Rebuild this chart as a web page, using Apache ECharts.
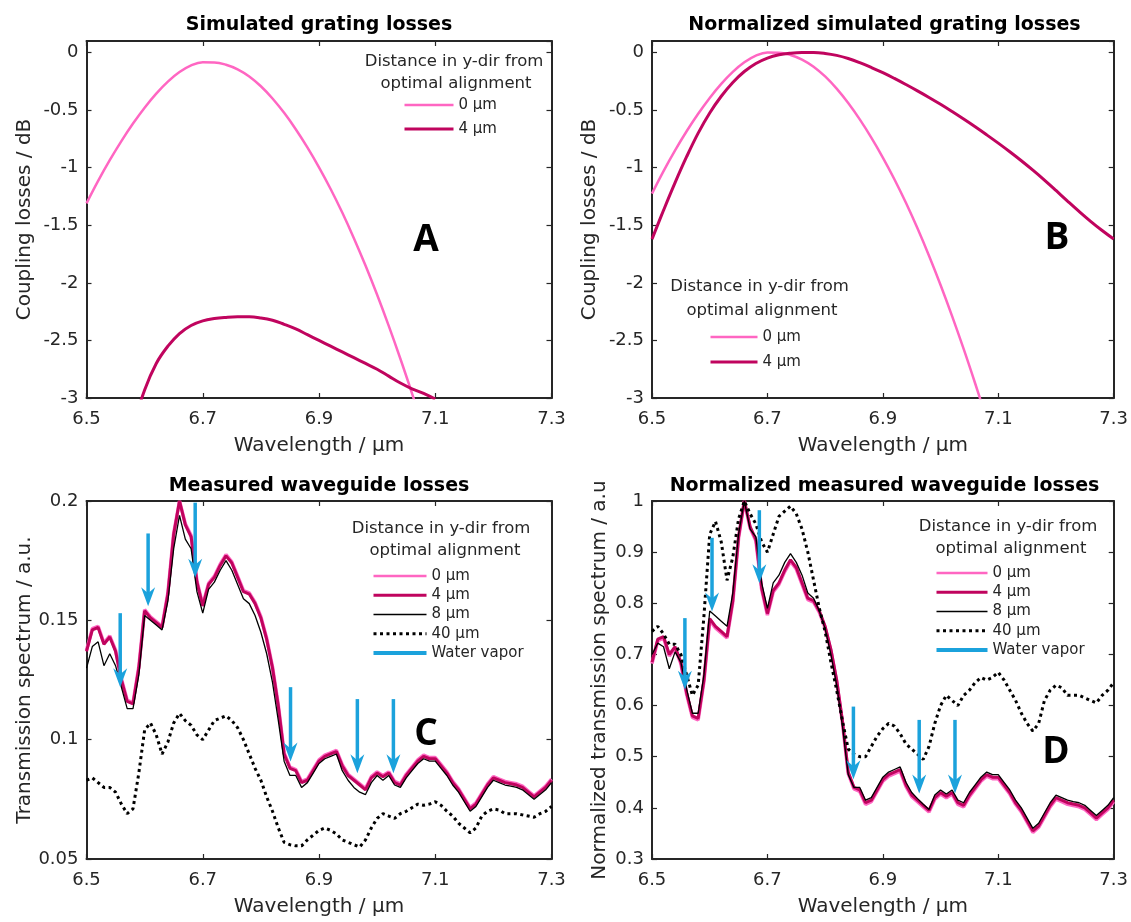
<!DOCTYPE html>
<html>
<head>
<meta charset="utf-8">
<title>Grating and waveguide losses</title>
<script src="https://cdn.jsdelivr.net/npm/echarts@6/dist/echarts.min.js"></script>
<style>
  html, body { margin: 0; background: #fff; }
  #chart { width: 1131px; height: 922px; }
</style>
</head>
<body>
<div id="chart"></div>
<script>
// ---- simulated grating losses (panels A and B), sampled every 0.02 um ----
const simWavelength = [6.50, 6.52, 6.54, 6.56, 6.58, 6.60, 6.62, 6.64, 6.66, 6.68, 6.70, 6.72, 6.74, 6.76, 6.78,
  6.80, 6.82, 6.84, 6.86, 6.88, 6.90, 6.92, 6.94, 6.96, 6.98, 7.00, 7.02, 7.04, 7.06, 7.08, 7.10,
  7.12, 7.14, 7.16, 7.18, 7.20, 7.22, 7.24, 7.26, 7.28, 7.30];

// A: coupling losses in dB
const simLoss0 = [-1.31, -1.115, -0.935, -0.769, -0.617, -0.479, -0.357, -0.253, -0.170, -0.112, -0.085, -0.086, -0.106, -0.146, -0.208,
  -0.293, -0.399, -0.524, -0.666, -0.824, -0.997, -1.185, -1.39, -1.612, -1.85, -2.104, -2.374, -2.659, -2.959, -3.271];
const simLoss4 = [null, null, null, null, -3.25, -2.93, -2.70, -2.55, -2.44, -2.37, -2.33, -2.31, -2.30, -2.295, -2.295,
  -2.305, -2.325, -2.36, -2.40, -2.45, -2.50, -2.55, -2.60, -2.65, -2.70, -2.75, -2.81, -2.87, -2.92, -2.96, -3.01];

// B: normalized to each curve's maximum
const simNorm0 = [-1.225, -1.03, -0.85, -0.684, -0.532, -0.394, -0.272, -0.168, -0.085, -0.027, 0, -0.001, -0.021, -0.061, -0.123,
  -0.208, -0.314, -0.439, -0.581, -0.739, -0.912, -1.10, -1.305, -1.527, -1.765, -2.019, -2.289, -2.574, -2.874, -3.186];
const simNorm4 = [-1.62, -1.37, -1.13, -0.905, -0.70, -0.525, -0.38, -0.26, -0.165, -0.095, -0.048, -0.02, -0.006, 0, 0,
  -0.008, -0.025, -0.052, -0.088, -0.13, -0.175, -0.225, -0.278, -0.333, -0.39, -0.45, -0.513, -0.578, -0.645, -0.715, -0.787,
  -0.862, -0.94, -1.022, -1.108, -1.198, -1.29, -1.38, -1.466, -1.546, -1.62];

// ---- measured waveguide transmission (panels C and D), sampled every 0.01 um ----
const measWavelength = [6.50, 6.51, 6.52, 6.53, 6.54, 6.55, 6.56, 6.57, 6.58, 6.59, 6.60, 6.61, 6.62, 6.63, 6.64,
  6.65, 6.66, 6.67, 6.68, 6.69, 6.70, 6.71, 6.72, 6.73, 6.74, 6.75, 6.76, 6.77, 6.78, 6.79, 6.80,
  6.81, 6.82, 6.83, 6.84, 6.85, 6.86, 6.87, 6.88, 6.89, 6.90, 6.91, 6.92, 6.93, 6.94, 6.95, 6.96,
  6.97, 6.98, 6.99, 7.00, 7.01, 7.02, 7.03, 7.04, 7.05, 7.06, 7.07, 7.08, 7.09, 7.10, 7.11, 7.12,
  7.13, 7.14, 7.15, 7.16, 7.17, 7.18, 7.19, 7.20, 7.21, 7.22, 7.23, 7.24, 7.25, 7.26, 7.27, 7.28,
  7.29, 7.30];

// C: transmission in a.u.
const meas0 = [0.1375, 0.1465, 0.1475, 0.1405, 0.1435, 0.1375, 0.1255, 0.1165, 0.1155, 0.1305, 0.1545, 0.1515, 0.1495, 0.1475, 0.1615,
  0.1865, 0.200, 0.1905, 0.1855, 0.1665, 0.1565, 0.1655, 0.1685, 0.1735, 0.1775, 0.1745, 0.1685, 0.1625, 0.1615, 0.1575, 0.1515,
  0.1425, 0.1305, 0.1145, 0.0945, 0.0885, 0.0875, 0.0825, 0.0835, 0.0875, 0.0915, 0.0935, 0.0945, 0.0955, 0.0895, 0.0855, 0.0835,
  0.0815, 0.0795, 0.0845, 0.0865, 0.085, 0.0865, 0.0825, 0.0815, 0.0855, 0.0885, 0.0915, 0.0935, 0.0925, 0.0925, 0.0895, 0.0865,
  0.0825, 0.0795, 0.0755, 0.0715, 0.0735, 0.0775, 0.0815, 0.0845, 0.0835, 0.0825, 0.082, 0.0815, 0.0805, 0.0785, 0.0765, 0.0785,
  0.0805, 0.0835];
const meas4 = [0.137, 0.146, 0.147, 0.140, 0.143, 0.137, 0.125, 0.116, 0.115, 0.130, 0.154, 0.151, 0.149, 0.147, 0.161,
  0.186, 0.200, 0.190, 0.185, 0.166, 0.156, 0.165, 0.168, 0.173, 0.177, 0.174, 0.168, 0.162, 0.161, 0.157, 0.151,
  0.142, 0.130, 0.114, 0.094, 0.088, 0.087, 0.082, 0.083, 0.087, 0.091, 0.093, 0.094, 0.095, 0.089, 0.085, 0.083,
  0.081, 0.079, 0.084, 0.086, 0.0845, 0.086, 0.082, 0.081, 0.085, 0.088, 0.091, 0.093, 0.092, 0.092, 0.089, 0.086,
  0.082, 0.079, 0.075, 0.071, 0.073, 0.077, 0.081, 0.084, 0.083, 0.082, 0.0815, 0.081, 0.080, 0.078, 0.076, 0.078,
  0.080, 0.083];
const meas8 = [0.130, 0.139, 0.141, 0.131, 0.136, 0.131, 0.122, 0.113, 0.113, 0.127, 0.152, 0.150, 0.148, 0.146, 0.158,
  0.180, 0.194, 0.184, 0.180, 0.162, 0.153, 0.163, 0.166, 0.171, 0.175, 0.171, 0.165, 0.159, 0.157, 0.152, 0.145,
  0.136, 0.124, 0.108, 0.091, 0.085, 0.085, 0.080, 0.082, 0.086, 0.090, 0.092, 0.093, 0.094, 0.087, 0.083, 0.080,
  0.078, 0.077, 0.082, 0.085, 0.083, 0.085, 0.081, 0.080, 0.084, 0.087, 0.090, 0.092, 0.091, 0.091, 0.088, 0.085,
  0.081, 0.078, 0.074, 0.070, 0.072, 0.076, 0.080, 0.083, 0.082, 0.081, 0.0805, 0.080, 0.079, 0.077, 0.075, 0.077,
  0.079, 0.082];
const meas40 = [0.083, 0.084, 0.082, 0.080, 0.080, 0.078, 0.073, 0.069, 0.071, 0.086, 0.104, 0.107, 0.102, 0.094, 0.099,
  0.107, 0.111, 0.108, 0.106, 0.102, 0.100, 0.104, 0.108, 0.109, 0.110, 0.108, 0.105, 0.100, 0.094, 0.088, 0.083,
  0.076, 0.070, 0.063, 0.057, 0.056, 0.0555, 0.0555, 0.058, 0.060, 0.062, 0.063, 0.062, 0.0605, 0.058, 0.057, 0.056,
  0.055, 0.058, 0.063, 0.067, 0.069, 0.068, 0.067, 0.069, 0.070, 0.0715, 0.073, 0.0725, 0.073, 0.074, 0.0725, 0.070,
  0.068, 0.065, 0.063, 0.061, 0.063, 0.068, 0.070, 0.071, 0.0705, 0.069, 0.069, 0.069, 0.0685, 0.068, 0.0675, 0.069,
  0.070, 0.072];

// D: normalized transmission
const norm0 = [0.682, 0.727, 0.732, 0.697, 0.712, 0.682, 0.622, 0.577, 0.572, 0.647, 0.767, 0.752, 0.742, 0.732, 0.802,
  0.927, 1.0, 0.947, 0.922, 0.827, 0.777, 0.822, 0.837, 0.862, 0.882, 0.867, 0.837, 0.807, 0.802, 0.782, 0.752,
  0.707, 0.647, 0.567, 0.467, 0.437, 0.432, 0.407, 0.412, 0.432, 0.452, 0.462, 0.467, 0.472, 0.442, 0.422, 0.412,
  0.402, 0.392, 0.417, 0.427, 0.4195, 0.427, 0.407, 0.402, 0.422, 0.437, 0.452, 0.462, 0.457, 0.457, 0.442, 0.427,
  0.407, 0.392, 0.372, 0.352, 0.362, 0.382, 0.402, 0.417, 0.412, 0.407, 0.4045, 0.402, 0.397, 0.387, 0.377, 0.387,
  0.397, 0.412];
const norm4 = [0.685, 0.73, 0.735, 0.70, 0.715, 0.685, 0.625, 0.58, 0.575, 0.65, 0.77, 0.755, 0.745, 0.735, 0.805,
  0.93, 1.0, 0.95, 0.925, 0.83, 0.78, 0.825, 0.84, 0.865, 0.885, 0.87, 0.84, 0.81, 0.805, 0.785, 0.755,
  0.71, 0.65, 0.57, 0.47, 0.44, 0.435, 0.41, 0.415, 0.435, 0.455, 0.465, 0.47, 0.475, 0.445, 0.425, 0.415,
  0.405, 0.395, 0.42, 0.43, 0.4225, 0.43, 0.41, 0.405, 0.425, 0.44, 0.455, 0.465, 0.46, 0.46, 0.445, 0.43,
  0.41, 0.395, 0.375, 0.355, 0.365, 0.385, 0.405, 0.42, 0.415, 0.41, 0.4075, 0.405, 0.40, 0.39, 0.38, 0.39,
  0.40, 0.415];
const norm8 = [0.70, 0.722, 0.715, 0.672, 0.705, 0.685, 0.632, 0.585, 0.585, 0.66, 0.785, 0.775, 0.765, 0.755, 0.82,
  0.935, 1.0, 0.945, 0.93, 0.84, 0.79, 0.84, 0.855, 0.88, 0.897, 0.88, 0.855, 0.82, 0.81, 0.785, 0.75,
  0.70, 0.64, 0.56, 0.465, 0.44, 0.44, 0.415, 0.42, 0.44, 0.46, 0.47, 0.475, 0.48, 0.45, 0.43, 0.418,
  0.407, 0.397, 0.425, 0.435, 0.427, 0.435, 0.415, 0.41, 0.43, 0.445, 0.46, 0.47, 0.465, 0.465, 0.45, 0.435,
  0.415, 0.40, 0.38, 0.36, 0.37, 0.39, 0.41, 0.425, 0.42, 0.415, 0.412, 0.41, 0.405, 0.395, 0.385, 0.395,
  0.405, 0.42];
const norm40 = [0.745, 0.755, 0.74, 0.72, 0.72, 0.70, 0.66, 0.62, 0.64, 0.775, 0.935, 0.96, 0.92, 0.845, 0.89,
  0.965, 1.0, 0.975, 0.955, 0.92, 0.90, 0.935, 0.97, 0.98, 0.99, 0.975, 0.945, 0.90, 0.845, 0.79, 0.745,
  0.685, 0.63, 0.57, 0.515, 0.505, 0.50, 0.50, 0.52, 0.54, 0.555, 0.565, 0.56, 0.545, 0.525, 0.515, 0.505,
  0.495, 0.52, 0.565, 0.60, 0.62, 0.61, 0.60, 0.62, 0.63, 0.645, 0.655, 0.65, 0.655, 0.665, 0.65, 0.63,
  0.61, 0.585, 0.565, 0.55, 0.565, 0.61, 0.63, 0.64, 0.635, 0.62, 0.62, 0.62, 0.615, 0.61, 0.605, 0.62,
  0.63, 0.645];

// water vapor absorption markers: wavelength, arrow tail, arrow tip
const vaporWavelengthC = [6.558, 6.606, 6.687, 6.851, 6.966, 7.028];
const vaporTopC = [0.153, 0.1864, 0.1993, 0.122, 0.117, 0.117];
const vaporTipC = [0.122, 0.1559, 0.1678, 0.0908, 0.0859, 0.0859];
const vaporWavelengthD = [6.557, 6.604, 6.686, 6.849, 6.963, 7.025];
const vaporTopD = [0.771, 0.928, 0.982, 0.598, 0.572, 0.572];
const vaporTipD = [0.631, 0.784, 0.839, 0.456, 0.428, 0.428];

const xTicks = { min: 6.5, max: 7.3, interval: 0.2 };

const pink = '#ff66c2';
const crimson = '#c0045e';
const cyan = '#1ba2dc';
const ink = '#262626';
const font = 'DejaVu Sans, Verdana, sans-serif';

const pairs = (xs, ys) => ys.map((y, i) => [xs[i], y]);

const chart = echarts.init(document.getElementById('chart'));

// panel frames: grid placement and y scale
const panels = [
  { left: 86.5, top: 41, height: 357, ymin: -3, ymax: 0.1, yint: 0.5, yname: 'Coupling losses / dB', ygap: 52 },
  { left: 652, top: 41, height: 357, ymin: -3, ymax: 0.1, yint: 0.5, yname: 'Coupling losses / dB', ygap: 52 },
  { left: 86.5, top: 501, height: 358, ymin: 0.05, ymax: 0.2, yint: 0.05, yname: 'Transmission spectrum / a.u.', ygap: 52 },
  { left: 652, top: 501, height: 358, ymin: 0.3, ymax: 1, yint: 0.1, yname: 'Normalized transmission spectrum / a.u', ygap: 42 }
];

const frameLine = { show: true, onZero: false, lineStyle: { color: ink, width: 2 } };
const tick = { show: true, inside: true, length: 5, lineStyle: { color: ink, width: 1.2 } };
const tickText = { color: ink, fontSize: 18, fontFamily: font };
const nameText = { color: ink, fontSize: 20, fontFamily: font };

const grid = panels.map(p => ({ left: p.left, top: p.top, width: 465, height: p.height }));

const xAxis = [];
const yAxis = [];
panels.forEach((p, i) => {
  xAxis[i] = {
    gridIndex: i, type: 'value', position: 'bottom', ...xTicks,
    name: 'Wavelength / µm', nameLocation: 'middle', nameGap: 38, nameTextStyle: nameText,
    axisLine: frameLine, axisTick: tick, splitLine: { show: false },
    axisLabel: { ...tickText, margin: 12 }
  };
  xAxis[i + 4] = {
    gridIndex: i, type: 'value', position: 'top', ...xTicks,
    axisLine: frameLine, axisTick: tick, splitLine: { show: false }, axisLabel: { show: false }
  };
  yAxis[i] = {
    gridIndex: i, type: 'value', position: 'left', min: p.ymin, max: p.ymax, interval: p.yint,
    name: p.yname, nameLocation: 'middle', nameGap: p.ygap, nameTextStyle: nameText,
    axisLine: frameLine, axisTick: tick, splitLine: { show: false },
    axisLabel: { ...tickText, margin: 8, showMaxLabel: p.ymax !== 0.1 }
  };
  yAxis[i + 4] = {
    gridIndex: i, type: 'value', position: 'right', min: p.ymin, max: p.ymax, interval: p.yint,
    axisLine: frameLine, axisTick: tick, splitLine: { show: false }, axisLabel: { show: false }
  };
});

function curve(name, panel, xs, ys, color, width, dash, smooth) {
  return {
    name, type: 'line', xAxisIndex: panel, yAxisIndex: panel,
    data: pairs(xs, ys), symbol: 'none', smooth: smooth || false, clip: true,
    lineStyle: { color, width, type: dash || 'solid', cap: 'butt' },
    itemStyle: { color }, emphasis: { disabled: true }
  };
}

function arrowItem(params, api) {
  const tail = api.coord([api.value(0), api.value(1)]);
  const tip = api.coord([api.value(0), api.value(2)]);
  return {
    type: 'group',
    children: [
      { type: 'line', shape: { x1: tail[0], y1: tail[1], x2: tip[0], y2: tip[1] - 12 },
        style: { stroke: cyan, lineWidth: 3.5 } },
      { type: 'polygon',
        shape: { points: [[tip[0], tip[1]], [tip[0] - 7, tip[1] - 19], [tip[0], tip[1] - 13], [tip[0] + 7, tip[1] - 19]] },
        style: { fill: cyan } }
    ]
  };
}

function vapor(panel, xs, tops, tips) {
  return {
    name: 'Water vapor', type: 'custom', xAxisIndex: panel, yAxisIndex: panel,
    data: xs.map((x, i) => [x, tops[i], tips[i]]),
    encode: { x: 0, y: [1, 2] }, renderItem: arrowItem, itemStyle: { color: cyan }, z: 5
  };
}

const series = [
  curve('0 µm', 0, simWavelength, simLoss0, pink, 2.5, null, 0.4),
  curve('4 µm', 0, simWavelength, simLoss4, crimson, 3, null, 0.4),
  curve('0 µm', 1, simWavelength, simNorm0, pink, 2.5, null, 0.4),
  curve('4 µm', 1, simWavelength, simNorm4, crimson, 3, null, 0.4),
  curve('0 µm', 2, measWavelength, meas0, pink, 3.5),
  curve('4 µm', 2, measWavelength, meas4, crimson, 3),
  curve('8 µm', 2, measWavelength, meas8, '#000', 1.3),
  curve('40 µm', 2, measWavelength, meas40, '#000', 3, [3, 3.5]),
  vapor(2, vaporWavelengthC, vaporTopC, vaporTipC),
  curve('0 µm', 3, measWavelength, norm0, pink, 3.5),
  curve('4 µm', 3, measWavelength, norm4, crimson, 3),
  curve('8 µm', 3, measWavelength, norm8, '#000', 1.3),
  curve('40 µm', 3, measWavelength, norm40, '#000', 3, [3, 3.5]),
  vapor(3, vaporWavelengthD, vaporTopD, vaporTipD)
];

const legendText = { color: ink, fontSize: 15, fontFamily: font };
const lineKey = (name, width) => ({ name, lineStyle: { width }, itemStyle: { opacity: 0 } });
const vaporKey = { name: 'Water vapor', icon: 'rect', itemStyle: { color: cyan } };
const simKeys = [lineKey('0 µm', 2.5), lineKey('4 µm', 3)];
const measKeys = [lineKey('0 µm', 2.5), lineKey('4 µm', 3), lineKey('8 µm', 1.3), lineKey('40 µm', 3), vaporKey];

function legendBox(left, top, itemWidth, itemGap, data) {
  return {
    left, top, orient: 'vertical', align: 'left', padding: 0, selectedMode: false,
    itemWidth, itemHeight: 4, itemGap, textStyle: legendText, data
  };
}

function label(x, y, text, size, weight, family) {
  return {
    type: 'text', x, y, silent: true,
    style: {
      text, fill: weight === 'heading' ? ink : '#000', textAlign: 'center', textVerticalAlign: 'middle',
      font: (weight === 'heading' ? 'normal ' : 'bold ') + size + 'px ' + (family || font)
    }
  };
}

const heading1 = 'Distance in y-dir from';
const heading2 = 'optimal alignment';
const letterFont = 'Open Sans, sans-serif';

chart.setOption({
  animation: false,
  backgroundColor: '#fff',
  grid, xAxis, yAxis, series,
  legend: [
    legendBox(403, 97.5, 49, 9, simKeys),
    legendBox(709, 329.5, 47, 10, simKeys),
    legendBox(372, 568.5, 53, 4.25, measKeys),
    legendBox(935, 565.5, 51, 4.25, measKeys)
  ],
  graphic: [
    label(319, 25, 'Simulated grating losses', 19, 'bold'),
    label(884.5, 25, 'Normalized simulated grating losses', 19, 'bold'),
    label(319, 486, 'Measured waveguide losses', 19, 'bold'),
    label(884.5, 486, 'Normalized measured waveguide losses', 19, 'bold'),
    label(454, 62, heading1, 16.5, 'heading'),
    label(456, 84, heading2, 16.5, 'heading'),
    label(759.5, 287, heading1, 16.5, 'heading'),
    label(762, 311, heading2, 16.5, 'heading'),
    label(441, 529, heading1, 16.5, 'heading'),
    label(445, 551, heading2, 16.5, 'heading'),
    label(1008, 527, heading1, 16.5, 'heading'),
    label(1011, 549, heading2, 16.5, 'heading'),
    label(426, 240, 'A', 37, 'bold', letterFont),
    label(1057, 238, 'B', 37, 'bold', letterFont),
    label(426, 734, 'C', 37, 'bold', letterFont),
    label(1056, 752, 'D', 37, 'bold', letterFont)
  ]
});
</script>
</body>
</html>
